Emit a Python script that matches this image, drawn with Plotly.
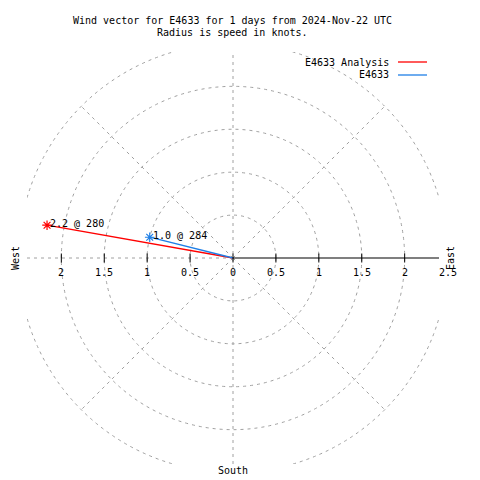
import numpy as np
import plotly.graph_objects as go

# ---- data ----
series_names = ["E4633 Analysis", "E4633"]
speeds_kt = [2.2, 1.0]
directions_deg = [280, 284]
series_colors = ["#ff0000", "#1f7fe6"]
point_labels = ["2.2 @ 280", "1.0 @ 284"]

ring_radii = [0.5, 1.0, 1.5, 2.0, 2.5]
spoke_angles = [45, 135, 225, 315]
tick_values = [-2, -1.5, -1, -0.5, 0, 0.5, 1, 1.5, 2, 2.5]
tick_labels = ["2", "1.5", "1", "0.5", "0", "0.5", "1", "1.5", "2", "2.5"]

title_lines = ["Wind vector for E4633 for 1 days from 2024-Nov-22 UTC",
               "Radius is speed in knots."]

# ---- layout geometry (page pixels; page body has an 8px margin) ----
OFF = 8
PL, PR, PT, PB = 27, 439, 52, 464   # plot box in page pixels
L = PL - OFF
T = PT - OFF
W = PR - PL
H = PB - PT
R = 480 - L - W
B = 480 - T - H
RMAX = 2.4
FONT = "DejaVu Sans Mono"
GRID = "#a0a0a0"
DASH = "3px,4px"


def px(xp, yp):
    return (xp - PL) / W, (PB - yp) / H


fig = go.Figure()
shapes = []
annotations = []

# rings
for r in ring_radii:
    shapes.append(dict(type="circle", xref="x", yref="y", x0=-r, y0=-r, x1=r, y1=r,
                       line=dict(color=GRID, width=1, dash=DASH), layer="below"))
# spokes
for a in spoke_angles:
    t = np.radians(a)
    shapes.append(dict(type="line", xref="x", yref="y", x0=0, y0=0,
                       x1=ring_radii[-1] * np.cos(t), y1=ring_radii[-1] * np.sin(t),
                       line=dict(color=GRID, width=1, dash=DASH), layer="below"))
# vertical and left horizontal dashed
shapes.append(dict(type="line", xref="x", yref="y", x0=0, y0=-RMAX, x1=0, y1=RMAX,
                   line=dict(color=GRID, width=1, dash=DASH), layer="below"))
shapes.append(dict(type="line", xref="x", yref="y", x0=-RMAX, y0=0, x1=0, y1=0,
                   line=dict(color=GRID, width=1, dash=DASH), layer="below"))
# right solid axis
shapes.append(dict(type="line", xref="x", yref="y", x0=0, y0=0, x1=RMAX, y1=0,
                   line=dict(color="black", width=1.2), layer="above"))
# ticks
tick_h = 4.5 / (H / (2 * RMAX))
for v in tick_values:
    if abs(v) <= RMAX:
        shapes.append(dict(type="line", xref="x", yref="y", x0=v, y0=-tick_h, x1=v, y1=tick_h,
                           line=dict(color="black", width=1), layer="above"))
for v, lab in zip(tick_values, tick_labels):
    xp = (v + RMAX) / (2 * RMAX)
    annotations.append(dict(x=xp, y=px(0, 272)[1], xref="paper", yref="paper", text=lab,
                            showarrow=False, xanchor="center", yanchor="middle",
                            font=dict(family=FONT, size=10, color="black")))

# data vectors
for name, s, d, c, lab in zip(series_names, speeds_kt, directions_deg, series_colors, point_labels):
    th = np.radians(d)
    xe, ye = s * np.sin(th), s * np.cos(th)
    fig.add_trace(go.Scatter(x=[0, xe], y=[0, ye], mode="lines", name=name,
                             line=dict(color=c, width=1.3), showlegend=False, hoverinfo="skip"))
    fig.add_trace(go.Scatter(x=[xe], y=[ye], mode="markers", showlegend=False, hoverinfo="skip",
                             marker=dict(symbol="asterisk-open", size=8, color=c,
                                         line=dict(color=c, width=1.2))))
    annotations.append(dict(x=xe, y=ye, xref="x", yref="y", text=lab, showarrow=False,
                            xanchor="left", yanchor="middle", xshift=1, yshift=2,
                            font=dict(family=FONT, size=10, color="black")))

# legend (custom)
for i, (name, c) in enumerate(zip(series_names, series_colors)):
    ypx = 62 + 13 * i
    xa, ya = px(391, ypx)
    annotations.append(dict(x=xa, y=ya, xref="paper", yref="paper", text=name, showarrow=False,
                            xanchor="right", yanchor="middle",
                            font=dict(family=FONT, size=10, color="black")))
    x0, _ = px(398, ypx)
    x1, _ = px(427, ypx)
    shapes.append(dict(type="line", xref="paper", yref="paper", x0=x0, x1=x1, y0=ya, y1=ya,
                       line=dict(color=c, width=1.3)))

# titles
for i, line in enumerate(title_lines):
    xa, ya = px(232, 20 + 13 * i)
    annotations.append(dict(x=xa, y=ya, xref="paper", yref="paper", text=line, showarrow=False,
                            xanchor="center", yanchor="middle",
                            font=dict(family=FONT, size=10, color="black")))

# compass labels
for text, xx, yy, ang in [("West", 15, 258, -90), ("East", 450, 258, -90), ("South", 233, 470, 0)]:
    xa, ya = px(xx, yy)
    annotations.append(dict(x=xa, y=ya, xref="paper", yref="paper", text=text, showarrow=False,
                            xanchor="center", yanchor="middle", textangle=ang,
                            font=dict(family=FONT, size=10, color="black")))

fig.update_layout(
    width=480, height=480,
    margin=dict(l=L, r=R, t=T, b=B),
    paper_bgcolor="white", plot_bgcolor="white",
    xaxis=dict(range=[-RMAX, RMAX], visible=False, fixedrange=True),
    yaxis=dict(range=[-RMAX, RMAX], visible=False, fixedrange=True),
    shapes=shapes, annotations=annotations, showlegend=False,
)

fig.write_html("out.html")
